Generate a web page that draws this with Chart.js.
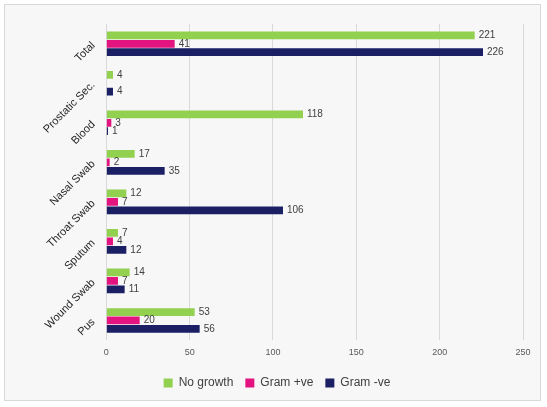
<!DOCTYPE html>
<html>
<head>
<meta charset="utf-8">
<script src="https://cdn.jsdelivr.net/npm/chart.js@4"></script>
<style>
  html, body { margin: 0; padding: 0; background: #ffffff; }
  #box {
    position: absolute; left: 4px; top: 4px; width: 537px; height: 397px;
    background: #f7f7f7; border: 1px solid #d9d9d9; box-sizing: border-box;
  }
  canvas { display: block; }
</style>
</head>
<body>
<div id="box"><canvas id="chart" width="535" height="395"></canvas></div>
<script>
const samples = ["Total", "Prostatic Sec.", "Blood", "Nasal Swab", "Throat Swab", "Sputum", "Wound Swab", "Pus"];
const noGrowth = [221, 4, 118, 17, 12, 7, 14, 53];
const gramPos = [41, 0, 3, 2, 7, 4, 7, 20];
const gramNeg = [226, 4, 1, 35, 106, 12, 11, 56];
const xTicks = [0, 50, 100, 150, 200, 250];

// value labels at the end of each bar
const barValues = {
  id: "barValues",
  afterDatasetsDraw(chart) {
    const ctx = chart.ctx;
    ctx.save();
    ctx.font = "10px 'Liberation Sans', sans-serif";
    ctx.fillStyle = "#404040";
    ctx.textBaseline = "middle";
    ctx.textAlign = "left";
    chart.data.datasets.forEach((ds, i) => {
      chart.getDatasetMeta(i).data.forEach((bar, j) => {
        const v = ds.data[j];
        if (!v) return;
        ctx.fillText(String(v), bar.x + 4, bar.y);
      });
    });
    ctx.restore();
  }
};

const config = {
  type: "bar",
  data: {
    labels: samples,
    datasets: [
      { label: "No growth", data: noGrowth, backgroundColor: "#92d050" },
      { label: "Gram +ve", data: gramPos, backgroundColor: "#e3147f" },
      { label: "Gram -ve", data: gramNeg, backgroundColor: "#1b1f64" },
    ],
  },
  options: {
    indexAxis: "y",
    responsive: false,
    animation: false,
    layout: { padding: { top: 19, right: 17, left: 26, bottom: 1 } },
    datasets: { bar: { categoryPercentage: 0.64, barPercentage: 0.92 } },
    scales: {
      x: {
        min: 0,
        max: 250,
        afterBuildTicks(axis) { axis.ticks = xTicks.map(v => ({ value: v })); },
        grid: { color: "#d9d9d9", drawTicks: false },
        border: { display: false },
        ticks: { color: "#595959", font: { size: 9, family: "Liberation Sans" }, padding: 7 },
      },
      y: {
        grid: { display: false },
        border: { display: false },
        ticks: {
          color: "#262626",
          minRotation: 45,
          maxRotation: 45,
          font: { size: 11, family: "Liberation Sans" },
          padding: 5,
        },
      },
    },
    plugins: {
      legend: {
        position: "bottom",
        labels: {
          boxWidth: 9,
          boxHeight: 9,
          color: "#404040",
          font: { size: 12, family: "Liberation Sans" },
          padding: 12,
        },
      },
      tooltip: { enabled: false },
    },
  },
  plugins: [barValues],
};

window.onload = function () {
  window.myBar = new Chart(document.getElementById("chart"), config);
};
</script>
</body>
</html>
